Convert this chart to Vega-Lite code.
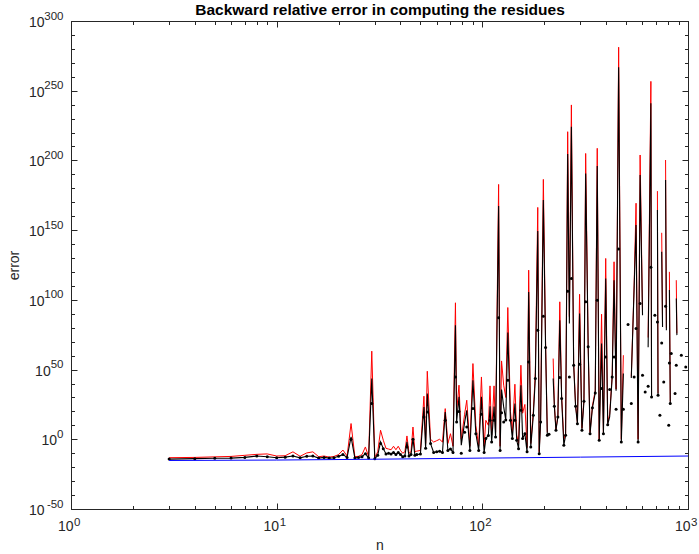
{
 "$schema": "https://vega.github.io/schema/vega-lite/v6.json",
 "width": 617, "height": 488,
 "autosize": {"type": "none"},
 "padding": {"left": 71, "top": 21, "right": 11, "bottom": 45},
 "background": "white",
 "config": {"view": {"stroke": null}, "axis": {"grid": false, "domainColor": "#262626", "tickColor": "#262626", "labelColor": "#262626", "labelFont": "Liberation Sans", "labelFontSize": 14, "titleFont": "Liberation Sans", "titleFontSize": 14, "titleFontWeight": "normal", "titleColor": "#262626", "domainWidth": 1, "tickWidth": 1, "labelFlush": false}},
 "datasets": {
  "res": [
   {"n":3,"r":-13.2,"k":-14.2,"d":-14.2},{"n":4,"r":-13.0,"k":-13.9,"d":-13.9},{"n":5,"r":-12.6,"k":-13.6,"d":-13.6},{"n":6,"r":-12.3,"k":-13.5,"d":-13.5},{"n":7,"r":-11.5,"k":-13.0,"d":-13.0},{"n":8,"r":-10.8,"k":-12.0,"d":-12.0},{"n":9,"r":-10.5,"k":-12.5,"d":-12.5},{"n":10,"r":-12.0,"k":-13.2,"d":-13.2},{"n":11,"r":-11.8,"k":-12.8,"d":-12.8},{"n":12,"r":-9.0,"k":-12.0,"d":-12.0},{"n":13,"r":-12.2,"k":-13.3,"d":-13.3},{"n":14,"r":-9.8,"k":-12.2,"d":-12.2},{"n":15,"r":-9.0,"k":-12.0,"d":-12.0},{"n":16,"r":-12.5,"k":-13.5,"d":-13.5},{"n":17,"r":-12.0,"k":-13.0,"d":-13.0},{"n":18,"r":-12.8,"k":-13.5,"d":-13.5},{"n":19,"r":-12.3,"k":-13.3,"d":-13.3},{"n":20,"r":-11.0,"k":-12.2,"d":-12.2},{"n":21,"r":-7.7,"k":-11.0,"d":-11.0},{"n":22,"r":-12.0,"k":-13.0,"d":-13.0},{"n":23,"r":11.3,"k":1.7,"d":0},{"n":24,"r":-12.5,"k":-13.5,"d":-13.5},{"n":25,"r":-12.2,"k":-13.0,"d":-13.0},{"n":26,"r":-11.0,"k":-12.5,"d":-12.5},{"n":27,"r":-5.5,"k":-10.3,"d":-10.3},{"n":28,"r":-12.5,"k":-13.5,"d":-13.5},{"n":29,"r":63.2,"k":43.6,"d":25.6},{"n":30,"r":-13.0,"k":-14.0,"d":-14.0},{"n":31,"r":-9.0,"k":-11.5,"d":-11.5},{"n":32,"r":6.5,"k":-1.9,"d":-3.0},{"n":33,"r":-0.7,"k":-6.7,"d":-6.7},{"n":34,"r":-6.5,"k":-10.5,"d":-10.5},{"n":35,"r":-7.0,"k":-10.0,"d":-10.0},{"n":36,"r":-7.5,"k":-10.5,"d":-10.5},{"n":37,"r":-5.0,"k":-9.5,"d":-9.5},{"n":38,"r":-7.5,"k":-11.0,"d":-11.0},{"n":39,"r":-5.0,"k":-9.5,"d":-9.5},{"n":40,"r":-8.0,"k":-11.0,"d":-11.0},{"n":41,"r":-10.0,"k":-12.5,"d":-12.5},{"n":42,"r":-9.0,"k":-12.0,"d":-12.0},{"n":43,"r":2.4,"k":-1.9,"d":-5.5},{"n":44,"r":-10.0,"k":-12.0,"d":-12.0},{"n":45,"r":-9.0,"k":-11.0,"d":-11.0},{"n":46,"r":8.8,"k":0.5,"d":0},{"n":47,"r":-9.0,"k":-11.5,"d":-11.5},{"n":48,"r":-8.5,"k":-11.0,"d":-11.0},{"n":50,"r":-8.0,"k":-10.5,"d":-10.5},{"n":52,"r":30.9,"k":23.2,"d":16},{"n":53,"r":-3.0,"k":-6.5,"d":-6.5},{"n":54,"r":48.8,"k":32.8,"d":19.6},{"n":56,"r":0,"k":-3.1,"d":-3.1},{"n":58,"r":-2,"k":-9.5,"d":-9.5},{"n":60,"r":-1,"k":-9,"d":-9},{"n":62,"r":0,"k":-8.5,"d":-8.5},{"n":64,"r":-2,"k":-9.5,"d":-9.5},{"n":66,"r":22,"k":19.6,"d":13.6},{"n":68,"r":-3,"k":-8,"d":-8},{"n":70,"r":4,"k":-7,"d":-7},{"n":72,"r":-5,"k":-9.5,"d":-9.5},{"n":74,"r":97.9,"k":81.8,"d":44.7},{"n":75,"r":20,"k":12.4,"d":12.4},{"n":77,"r":38.8,"k":30.4,"d":20},{"n":79,"r":0,"k":-4.3,"d":-10},{"n":82,"r":18,"k":12,"d":5},{"n":84,"r":28,"k":20.8,"d":8.8},{"n":87,"r":-5,"k":-8,"d":-8},{"n":90,"r":54.3,"k":42.4,"d":22},{"n":93,"r":10,"k":4,"d":4},{"n":96,"r":-5,"k":-8,"d":-8},{"n":99,"r":44.7,"k":30.4,"d":18},{"n":102,"r":-5,"k":-9.5,"d":-9.5},{"n":104,"r":13.6,"k":0.5,"d":0.5},{"n":107,"r":10,"k":2.8,"d":2.8},{"n":109,"r":38.3,"k":23.7,"d":13.6},{"n":111,"r":3,"k":-1.9,"d":-1.9},{"n":114,"r":38.3,"k":23.5,"d":13.6},{"n":116,"r":5,"k":1.7,"d":1.7},{"n":120,"r":182.8,"k":167.3,"d":87.1},{"n":122,"r":-5,"k":-8,"d":-8},{"n":124,"r":56.2,"k":35.7,"d":19.1},{"n":127,"r":38.8,"k":23.2,"d":12.4},{"n":130,"r":30,"k":13.8,"d":13.8},{"n":133,"r":94.5,"k":76.6,"d":42.4},{"n":137,"r":20,"k":13.6,"d":13.6},{"n":140,"r":5,"k":0.5,"d":0.5},{"n":144,"r":39.5,"k":25.6,"d":13.6},{"n":147,"r":3,"k":-0.7,"d":-0.7},{"n":150,"r":-3,"k":-6.7,"d":-6.7},{"n":154,"r":53.1,"k":38.8,"d":20.8},{"n":157,"r":18.7,"k":0.5,"d":0.5},{"n":161,"r":25,"k":4,"d":4},{"n":165,"r":-6,"k":-9,"d":-9},{"n":168,"r":121.3,"k":105.7,"d":55.5},{"n":172,"r":-3,"k":-5.5,"d":-5.5},{"n":177,"r":20,"k":17.2,"d":17.2},{"n":181,"r":48,"k":43.6,"d":43.6},{"n":186,"r":166.3,"k":149.3,"d":78.2},{"n":189,"r":-9,"k":-10.3,"d":-10.3},{"n":192,"r":14,"k":12.4,"d":12.4},{"n":198,"r":186.4,"k":171.6,"d":88.3},{"n":203,"r":70,"k":65.8,"d":65.8},{"n":207,"r":5,"k":2.9,"d":2.9},{"n":211,"r":null,"k":null,"d":3.6},{"n":221,"r":57.9,"k":43.6,"d":null},{"n":224,"r":25,"k":23.7,"d":23.7},{"n":228,"r":7,"k":6.5,"d":6.5},{"n":233,"r":17,"k":16,"d":16},{"n":238,"r":98.6,"k":85.4,"d":44.3},{"n":243,"r":31,"k":29.2,"d":29.2},{"n":249,"r":0,"k":-4.3,"d":-4.3},{"n":254,"r":4,"k":2.9,"d":2.9},{"n":260,"r":220.6,"k":204.6,"d":106.2},{"n":265,"r":88,"k":83,"d":44.7},{"n":271,"r":239.8,"k":224.2,"d":115.3},{"n":278,"r":55,"k":53.1,"d":53.1},{"n":284,"r":25,"k":23.7,"d":23.7},{"n":290,"r":12,"k":11.2,"d":11.2},{"n":297,"r":104,"k":90.2,"d":53.8},{"n":305,"r":8,"k":6.5,"d":6.5},{"n":312,"r":29,"k":27.3,"d":27.3},{"n":318,"r":205,"k":190.7,"d":98.6},{"n":327,"r":68,"k":66.3,"d":66.3},{"n":334,"r":5,"k":4,"d":4},{"n":343,"r":24,"k":22.7,"d":22.7},{"n":354,"r":35,"k":33.2,"d":33.2},{"n":362,"r":208.7,"k":196,"d":99.8},{"n":370,"r":0,"k":-0.7,"d":-0.7},{"n":380,"r":89.7,"k":68.7,"d":36.4},{"n":388,"r":5,"k":4,"d":4},{"n":398,"r":129.7,"k":115.3,"d":59.1},{"n":407,"r":12,"k":10.5,"d":10.5},{"n":416,"r":18,"k":16,"d":35.7},{"n":428,"r":46,"k":44.7,"d":44.7},{"n":437,"r":127.3,"k":114.1,"d":59.1},{"n":447,"r":36,"k":34.8,"d":21.5},{"n":460,"r":281.2,"k":266.8,"d":136.4},{"n":474,"r":0,"k":-1.9,"d":-1.9},{"n":485,"r":60.3,"k":47.2,"d":21.5},{"n":511,"r":null,"k":null,"d":82.3},{"n":530,"r":45,"k":44,"d":25.6},{"n":547,"r":110,"k":108,"d":44.7},{"n":559,"r":169.3,"k":153.6,"d":79.4},{"n":572,"r":0,"k":-1.9,"d":-1.9},{"n":585,"r":203.9,"k":189.5,"d":97.4},{"n":601,"r":90,"k":89,"d":45.9},{"n":619,"r":null,"k":null,"d":34},{"n":640,"r":73,"k":66,"d":38},{"n":660,"r":256.7,"k":241,"d":123.3},{"n":665,"r":31,"k":30.4,"d":30.4},{"n":690,"r":null,"k":null,"d":89},{"n":710,"r":178,"k":164.4,"d":84.2},{"n":715,"r":33,"k":31.6,"d":31.6},{"n":730,"r":null,"k":null,"d":17.2},{"n":745,"r":148.1,"k":134.5,"d":69.1},{"n":752,"r":82,"k":80.6,"d":null},{"n":762,"r":null,"k":null,"d":41.1},{"n":778,"r":200.3,"k":185.9,"d":95.5},{"n":785,"r":80,"k":78.2,"d":null},{"n":806,"r":null,"k":null,"d":10},{"n":812,"r":120.1,"k":107,"d":54.8},{"n":820,"r":27,"k":25.6,"d":25.6},{"n":829,"r":null,"k":null,"d":61.5},{"n":865,"r":null,"k":null,"d":32.8},{"n":877,"r":114.1,"k":101,"d":53.1},{"n":883,"r":76,"k":74.7,"d":null},{"n":928,"r":null,"k":null,"d":60.3},{"n":975,"r":null,"k":null,"d":51.9}
  ],
  "blue": [
   {"n":3,"e":-15.2},{"n":10,"e":-14.9},{"n":30,"e":-14.3},{"n":100,"e":-13.5},{"n":300,"e":-12.8},{"n":1000,"e":-12.0}
  ]
 },
 "layer": [
  {
   "data": {"name": "res"},
   "mark": {"type": "line", "color": "#ff0000", "strokeWidth": 1, "invalid": "break-paths-show-domains"},
   "encoding": {
    "x": {"field": "n", "type": "quantitative", "scale": {"type": "log", "domain": [1, 1000]},
          "axis": {"orient": "bottom", "values": [1, 10, 100, 1000], "tickSize": -6, "labelPadding": 13.3, "labelAlign": "left", "labelOffset": 2.5, "labelFontSize": 11.5, "labelExpr": "datum.value == 1 ? '0' : datum.value == 10 ? '1' : datum.value == 100 ? '2' : '3'", "title": "n", "titlePadding": 11}},
    "y": {"field": "r", "type": "quantitative", "scale": {"domain": [-50, 300], "nice": false, "zero": false},
          "axis": {"orient": "left", "values": [-50, 0, 50, 100, 150, 200, 250, 300], "tickSize": -6, "labelPadding": 14, "labelAlign": "right", "labelOffset": -5, "labelFontSize": 11.5, "labelExpr": "'' + datum.value", "title": "error", "titlePadding": 22}}
   }
  },
  {
   "data": {"name": "res"},
   "mark": {"type": "line", "color": "#000000", "strokeWidth": 1.1, "invalid": "break-paths-show-domains"},
   "encoding": {
    "x": {"field": "n", "type": "quantitative", "scale": {"type": "log", "domain": [1, 1000]},
          "axis": {"orient": "bottom", "values": [2,3,4,5,6,7,8,9,20,30,40,50,60,70,80,90,200,300,400,500,600,700,800,900], "tickSize": -3.5, "labels": false, "title": null}},
    "y": {"field": "k", "type": "quantitative",
          "axis": {"orient": "left", "values": [-40,-30,-20,-10,10,20,30,40,60,70,80,90,110,120,130,140,160,170,180,190,210,220,230,240,260,270,280,290], "tickSize": -3.5, "labels": false, "title": null}}
   }
  },
  {
   "data": {"name": "res"},
   "mark": {"type": "circle", "color": "#000000", "size": 9, "opacity": 1},
   "encoding": {
    "x": {"field": "n", "type": "quantitative", "scale": {"type": "log", "domain": [1, 1000]},
          "axis": {"orient": "top", "values": [1, 10, 100, 1000], "tickSize": -6, "labels": false, "title": "Backward relative error in computing the residues", "titleFontWeight": "bold", "titleFontSize": 15.5, "titleColor": "#000000", "titlePadding": 6, "titleBaseline": "alphabetic"}},
    "y": {"field": "d", "type": "quantitative",
          "axis": {"orient": "right", "values": [-50, 0, 50, 100, 150, 200, 250, 300], "tickSize": -6, "labels": false, "title": null}}
   }
  },
  {
   "data": {"name": "blue"},
   "mark": {"type": "line", "color": "#0000ff", "strokeWidth": 1},
   "encoding": {
    "x": {"field": "n", "type": "quantitative", "scale": {"type": "log", "domain": [1, 1000]},
          "axis": {"orient": "top", "values": [2,3,4,5,6,7,8,9,20,30,40,50,60,70,80,90,200,300,400,500,600,700,800,900], "tickSize": -3.5, "labels": false, "title": null}},
    "y": {"field": "e", "type": "quantitative",
          "axis": {"orient": "right", "values": [-40,-30,-20,-10,10,20,30,40,60,70,80,90,110,120,130,140,160,170,180,190,210,220,230,240,260,270,280,290], "tickSize": -3.5, "labels": false, "title": null}}
   }
  },
  {
   "data": {"name": "blue"},
   "mark": {"type": "point", "opacity": 0, "size": 1},
   "encoding": {
    "x": {"field": "n", "type": "quantitative", "scale": {"type": "log", "domain": [1, 1000]},
          "axis": {"orient": "bottom", "values": [1, 10, 100, 1000], "ticks": false, "tickSize": 0, "domain": false, "labelPadding": 10, "labelAlign": "right", "labelOffset": 2, "labelFontSize": 14, "labelExpr": "'10'", "title": null}},
    "y": {"field": "e", "type": "quantitative",
          "axis": {"orient": "left", "values": [-50, 100, 150, 200, 250, 300], "ticks": false, "tickSize": 0, "domain": false, "labelPadding": 27, "labelAlign": "right", "labelOffset": 1.5, "labelFontSize": 14, "labelExpr": "'10'", "title": null}}
   }
  },
  {
   "data": {"name": "blue"},
   "mark": {"type": "point", "opacity": 0, "size": 1},
   "encoding": {
    "x": {"field": "n", "type": "quantitative", "scale": {"type": "log", "domain": [1, 1000]}, "axis": null},
    "y": {"field": "e", "type": "quantitative",
          "axis": {"orient": "left", "values": [0], "ticks": false, "tickSize": 0, "domain": false, "labelPadding": 14.4, "labelAlign": "right", "labelOffset": 1.5, "labelFontSize": 14, "labelExpr": "'10'", "title": null}}
   }
  },
  {
   "data": {"name": "blue"},
   "mark": {"type": "point", "opacity": 0, "size": 1},
   "encoding": {
    "x": {"field": "n", "type": "quantitative", "scale": {"type": "log", "domain": [1, 1000]}, "axis": null},
    "y": {"field": "e", "type": "quantitative",
          "axis": {"orient": "left", "values": [50], "ticks": false, "tickSize": 0, "domain": false, "labelPadding": 20.8, "labelAlign": "right", "labelOffset": 1.5, "labelFontSize": 14, "labelExpr": "'10'", "title": null}}
   }
  }
 ],
 "resolve": {"axis": {"x": "independent", "y": "independent"}}
}
